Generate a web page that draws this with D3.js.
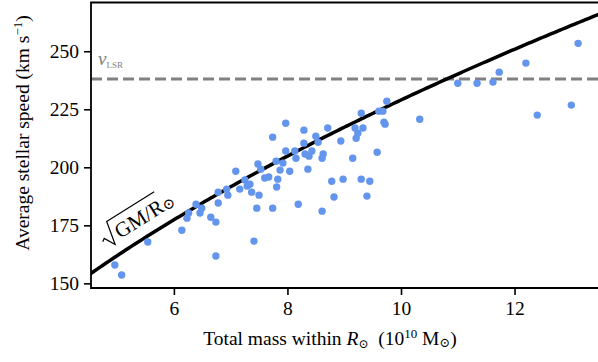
<!DOCTYPE html>
<html>
<head>
<meta charset="utf-8">
<script src="https://cdn.jsdelivr.net/npm/d3@7"></script>
<style>
  body { margin: 0; background: #fff; }
  svg { display: block; }
  text { font-family: "Liberation Serif", "DejaVu Serif", serif; }
</style>
</head>
<body>
<div id="chart"></div>
<script>
// total mass within R_sun (1e10 Msun) and average stellar speed (km/s)
let mass = [4.96, 5.08, 5.54, 6.14, 6.23, 6.26, 6.39, 6.46, 6.49, 6.65,
            6.74, 6.74, 6.78, 6.78, 6.93, 6.95, 7.09, 7.16, 7.25, 7.29,
            7.34, 7.37, 7.41, 7.46, 7.50, 7.48, 7.53, 7.60, 7.67, 7.74,
            7.74, 7.80, 7.81, 7.83, 7.87, 7.92, 7.97, 7.97, 8.04, 8.13,
            8.15, 8.19, 8.29, 8.29, 8.31, 8.36, 8.38, 8.43, 8.50, 8.54,
            8.61, 8.63, 8.61, 8.71, 8.78, 8.82, 8.94, 8.98, 9.15, 9.19,
            9.21, 9.24, 9.30, 9.30, 9.33, 9.40, 9.45, 9.58, 9.61, 9.68,
            9.70, 9.72, 9.75, 10.33, 11.00, 11.34, 11.62, 11.73, 12.20, 12.40,
            13.00, 13.12]
let speed = [157.9, 153.6, 167.8, 172.9, 178.1, 180.3, 184.1, 180.3, 182.4, 178.5,
             176.4, 161.8, 184.6, 189.3, 190.6, 188.0, 198.3, 190.6, 194.5, 191.9,
             192.7, 189.3, 168.2, 182.4, 188.0, 201.4, 199.2, 195.4, 195.8, 213.0,
             182.4, 202.6, 191.5, 194.9, 198.8, 201.8, 219.0, 207.0, 198.3, 207.0,
             203.9, 184.1, 216.0, 210.4, 205.7, 199.2, 204.8, 207.0, 213.4, 210.8,
             203.9, 205.7, 181.1, 216.9, 194.0, 187.2, 211.3, 194.9, 203.9, 216.9,
             212.5, 214.7, 223.3, 194.9, 216.9, 187.6, 194.0, 206.5, 224.2, 224.2,
             219.4, 218.6, 228.5, 220.7, 236.2, 236.2, 236.7, 241.0, 244.9, 222.5,
             226.8, 253.4]

let xTicks = [6, 8, 10, 12]
let yTicks = [150, 175, 200, 225, 250]
let vLSR = 238
// sqrt(G M / R_sun) in km/s with M in 1e10 Msun
let G = 4.30e-6, R_SUN = 8.2
let curveMass = d3.range(4.5, 13.6, 0.05)

const width = 598, height = 362
const margin = {top: 2.5, right: 0, bottom: 74, left: 91}

const svg = d3.select("#chart").append("svg")
    .attr("width", width)
    .attr("height", height)

const x = d3.scaleLinear().domain([4.54, 13.47]).range([margin.left, width - margin.right])
const y = d3.scaleLinear().domain([148, 271]).range([height - margin.bottom, margin.top])

svg.append("clipPath").attr("id", "clip")
  .append("rect")
    .attr("x", margin.left).attr("y", margin.top)
    .attr("width", width - margin.left - margin.right)
    .attr("height", height - margin.bottom - margin.top)

const plot = svg.append("g").attr("clip-path", "url(#clip)")

// v_LSR line
plot.append("line")
    .attr("x1", x.range()[0]).attr("x2", x.range()[1])
    .attr("y1", y(vLSR)).attr("y2", y(vLSR))
    .attr("stroke", "#808080")
    .attr("stroke-width", 3)
    .attr("stroke-dasharray", "11,5")

// model curve
const line = d3.line()
    .x(d => x(d))
    .y(d => y(Math.sqrt(G * 1e10 * d / R_SUN)))
plot.append("path")
    .datum(curveMass)
    .attr("fill", "none")
    .attr("stroke", "#000")
    .attr("stroke-width", 3.5)
    .attr("d", line)

// stars
plot.append("g")
  .selectAll("circle")
  .data(mass.map((m, i) => [m, speed[i]]))
  .enter().append("circle")
    .attr("cx", d => x(d[0]))
    .attr("cy", d => y(d[1]))
    .attr("r", 3.7)
    .attr("fill", "#6495ed")

// axes
const xAxis = svg.append("g")
    .attr("transform", `translate(0,${height - margin.bottom})`)
    .call(d3.axisBottom(x).tickValues(xTicks).tickSize(7).tickPadding(6).tickSizeOuter(0))
const yAxis = svg.append("g")
    .attr("transform", `translate(${margin.left},0)`)
    .call(d3.axisLeft(y).tickValues(yTicks).tickSize(7).tickPadding(5).tickSizeOuter(0))

for (const ax of [xAxis, yAxis]) {
    ax.select(".domain").remove()
    ax.selectAll(".tick line").attr("stroke", "#000").attr("stroke-width", 1.6)
    ax.selectAll(".tick text")
        .attr("fill", "#000")
        .style("font-size", "19.5px")
        .style("font-family", "'Liberation Serif', serif")
}

// frame
const x0 = margin.left, x1 = width - margin.right + 2
const y0 = margin.top, y1 = height - margin.bottom
svg.append("path")
    .attr("d", `M${x1},${y0} L${x0},${y0} L${x0},${y1} L${x1},${y1}`)
    .attr("fill", "none")
    .attr("stroke", "#000")
    .attr("stroke-width", 1.8)

// labels
const xl = svg.append("text")
    .attr("x", 330).attr("y", 345)
    .attr("text-anchor", "middle")
    .attr("xml:space", "preserve")
    .style("font-size", "19.5px")
xl.append("tspan").text("Total mass within ")
xl.append("tspan").attr("font-style", "italic").text("R")
xl.append("tspan").style("font-size", "12px").attr("dy", 3).text("⊙")
xl.append("tspan").attr("dy", -3).text("\u00a0 (10")
xl.append("tspan").style("font-size", "13px").attr("dy", -7).text("10")
xl.append("tspan").attr("dy", 7).text(" M")
xl.append("tspan").style("font-size", "13px").attr("dy", 2).text("⊙")
xl.append("tspan").attr("dy", -2).text(")")

const yl = svg.append("text")
    .attr("transform", "translate(29,133) rotate(-90)")
    .attr("text-anchor", "middle")
    .style("font-size", "19.5px")
yl.append("tspan").text("Average stellar speed (km s")
yl.append("tspan").style("font-size", "13px").attr("dy", -7).text("−1")
yl.append("tspan").attr("dy", 7).text(")")

// v_LSR label
const vl = svg.append("text")
    .attr("x", 98).attr("y", 65)
    .attr("fill", "#808080")
vl.append("tspan").attr("font-style", "italic").style("font-size", "19px").text("v")
vl.append("tspan").style("font-size", "9px").attr("dy", 3).text("LSR")

// sqrt(GM/R) label along the curve
const lab = svg.append("g").attr("transform", "translate(116,244) rotate(-32)")
lab.append("path")
    .attr("d", "M-10,-9 L-7,-11 L-1,0 L4,-24 L60,-24")
    .attr("fill", "none")
    .attr("stroke", "#000")
    .attr("stroke-width", 1.2)
const labText = lab.append("text")
    .attr("x", 6).attr("y", -2)
    .style("font-size", "21px")
labText.append("tspan").text("GM/R")
labText.append("tspan").style("font-size", "15px").attr("dy", 1).text("⊙")
</script>
</body>
</html>
